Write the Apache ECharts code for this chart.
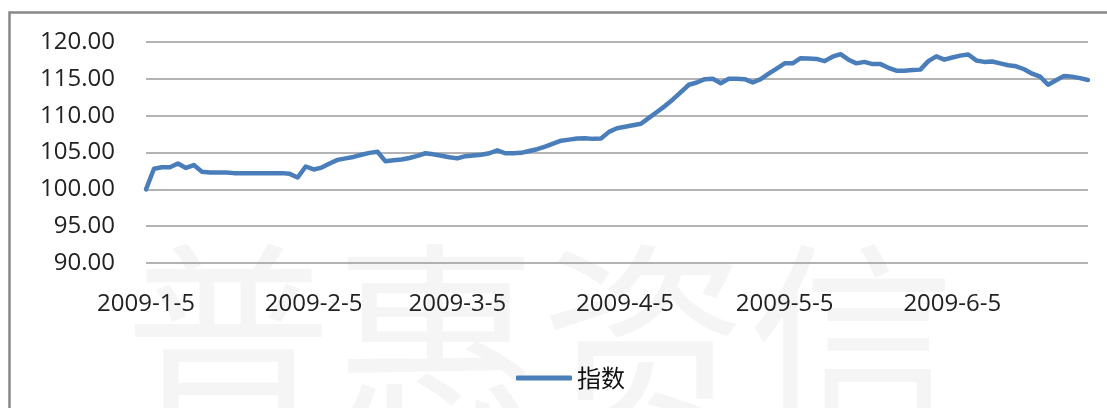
<!DOCTYPE html>
<html>
<head>
<meta charset="utf-8">
<script src="https://cdn.jsdelivr.net/npm/echarts@6/dist/echarts.min.js"></script>
<style>
html,body{margin:0;padding:0;background:#fff;}
#chart{width:1107px;height:408px;}
</style>
</head>
<body>
<div id="chart"></div>
<script>
// Categories (date strings), tick labels and series values
const dates = [
  '2009-1-5','2009-1-6','2009-1-7','2009-1-8','2009-1-9','2009-1-12','2009-1-13','2009-1-14','2009-1-15','2009-1-16',
  '2009-1-19','2009-1-20','2009-1-21','2009-1-22','2009-1-23','2009-1-26','2009-1-28','2009-1-30','2009-2-2','2009-2-3',
  '2009-2-4','2009-2-5',
  '2009-2-6','2009-2-9','2009-2-11','2009-2-12','2009-2-13','2009-2-16','2009-2-18','2009-2-19','2009-2-20','2009-2-23',
  '2009-2-24','2009-2-25','2009-2-26','2009-2-27','2009-3-2','2009-3-3','2009-3-4','2009-3-5',
  '2009-3-6','2009-3-9','2009-3-10','2009-3-11','2009-3-12','2009-3-13','2009-3-16','2009-3-17','2009-3-18','2009-3-19',
  '2009-3-20','2009-3-23','2009-3-24','2009-3-25','2009-3-26','2009-3-27','2009-3-30','2009-3-31','2009-4-1','2009-4-2',
  '2009-4-5',
  '2009-4-7','2009-4-8','2009-4-9','2009-4-10','2009-4-13','2009-4-14','2009-4-15','2009-4-16','2009-4-17','2009-4-20',
  '2009-4-21','2009-4-22','2009-4-23','2009-4-24','2009-4-27','2009-4-28','2009-4-29','2009-4-30','2009-5-4','2009-5-5',
  '2009-5-6','2009-5-7','2009-5-8','2009-5-11','2009-5-12','2009-5-13','2009-5-14','2009-5-15','2009-5-18','2009-5-19',
  '2009-5-20','2009-5-21','2009-5-22','2009-5-25','2009-5-26','2009-5-27','2009-6-1','2009-6-2','2009-6-3','2009-6-4',
  '2009-6-5',
  '2009-6-8','2009-6-9','2009-6-10','2009-6-11','2009-6-12','2009-6-15','2009-6-16','2009-6-17','2009-6-18','2009-6-19',
  '2009-6-22','2009-6-23','2009-6-24','2009-6-25','2009-6-26','2009-6-29','2009-6-30'
];

const indexValues = [
  100.0, 102.8, 103.0, 103.0, 103.5, 102.9, 103.3, 102.4, 102.3, 102.3,
  102.3, 102.2, 102.2, 102.2, 102.2, 102.2, 102.2, 102.2, 102.1, 101.6,
  103.1, 102.7, 102.95, 103.5, 104.0, 104.2, 104.4, 104.7, 104.95, 105.1,
  103.8, 103.95, 104.05, 104.25, 104.55, 104.9, 104.75, 104.55, 104.35, 104.2,
  104.5, 104.6, 104.7, 104.9, 105.3, 104.9, 104.9, 104.95, 105.2, 105.45,
  105.8, 106.2, 106.6, 106.75, 106.9, 106.95, 106.85, 106.9, 107.8, 108.3,
  108.5, 108.7, 108.9, 109.7, 110.5, 111.3, 112.2, 113.2, 114.2, 114.5,
  114.95, 115.0, 114.4, 115.0, 115.0, 114.95, 114.5, 114.95, 115.7, 116.4,
  117.1, 117.1, 117.8, 117.75, 117.7, 117.4, 118.0, 118.35, 117.6, 117.1,
  117.3, 117.0, 117.0, 116.5, 116.1, 116.1, 116.2, 116.25, 117.4, 118.05,
  117.6, 117.9, 118.15, 118.3, 117.5, 117.3, 117.35, 117.1, 116.85, 116.7,
  116.3, 115.7, 115.3, 114.2, 114.8, 115.4, 115.3, 115.1, 114.85
];

const xTickLabels = ['2009-1-5','2009-2-5','2009-3-5','2009-4-5','2009-5-5','2009-6-5'];
const seriesName = '指数';
const watermarkText = '普惠资信';

const chart = echarts.init(document.getElementById('chart'), null, {renderer: 'canvas'});
const labelFont = '"Open Sans", "Liberation Sans", sans-serif';

chart.setOption({
  animation: false,
  backgroundColor: '#ffffff',
  graphic: [
    {
      type: 'text',
      z: -10,
      left: 124,
      top: 236,
      silent: true,
      style: {
        text: watermarkText,
        font: '208px "Noto Sans CJK SC", sans-serif',
        fill: '#f5f5f5'
      }
    },
    {
      type: 'rect',
      z: 100,
      silent: true,
      shape: {x: 9.5, y: 12.5, width: 1120, height: 420},
      style: {fill: 'none', stroke: '#888888', lineWidth: 2.5}
    }
  ],
  grid: {
    left: 146,
    right: 19,
    top: 42,
    bottom: 408 - 263,
    containLabel: false
  },
  legend: {
    data: [seriesName],
    left: 511,
    top: 361,
    itemWidth: 56,
    itemHeight: 5,
    itemGap: 8,
    icon: 'roundRect',
    textStyle: {
      fontFamily: '"Noto Sans CJK SC", sans-serif',
      fontSize: 24,
      color: '#111'
    }
  },
  xAxis: {
    type: 'category',
    data: dates,
    boundaryGap: false,
    axisLine: {show: false},
    axisTick: {show: false},
    splitLine: {show: false},
    axisLabel: {
      interval: function (idx, val) { return xTickLabels.indexOf(val) >= 0; },
      margin: 29,
      fontFamily: labelFont,
      fontSize: 24,
      color: '#222'
    }
  },
  yAxis: {
    type: 'value',
    min: 90,
    max: 120,
    interval: 5,
    axisLine: {show: false},
    axisTick: {show: false},
    splitLine: {show: true, lineStyle: {color: '#9a9a9a', width: 1.5}},
    axisLabel: {
      margin: 31,
      formatter: function (v) { return v.toFixed(2); },
      fontFamily: labelFont,
      fontSize: 24,
      color: '#222'
    }
  },
  series: [{
    name: seriesName,
    type: 'line',
    data: indexValues,
    showSymbol: false,
    symbol: 'none',
    smooth: false,
    lineStyle: {color: '#4A7EBB', width: 4.5, cap: 'round', join: 'round'},
    itemStyle: {color: '#4A7EBB'}
  }]
});
</script>
</body>
</html>
